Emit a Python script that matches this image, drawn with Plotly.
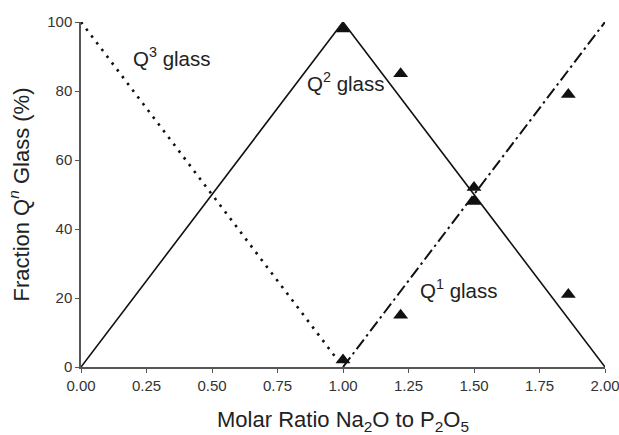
import plotly.graph_objects as go

# Ideal Q^n speciation lines vs. molar ratio
q2_x = [0.0, 1.0, 2.0]
q2_y = [0, 100, 0]
q3_x = [0.0, 1.0]
q3_y = [100, 0]
q1_x = [1.0, 2.0]
q1_y = [0, 100]

# Measured fractions (triangles)
meas_x = [1.0, 1.0, 1.22, 1.22, 1.5, 1.5, 1.86, 1.86]
meas_y = [98, 2, 85, 15, 52, 48, 79, 21]

x_ticks = [0.0, 0.25, 0.5, 0.75, 1.0, 1.25, 1.5, 1.75, 2.0]
y_ticks = [0, 20, 40, 60, 80, 100]

FONT = "Liberation Sans, Arial, sans-serif"

fig = go.Figure()
fig.add_trace(go.Scatter(x=q2_x, y=q2_y, mode="lines",
                         line=dict(color="#111111", width=1.6)))
fig.add_trace(go.Scatter(x=q3_x, y=q3_y, mode="lines",
                         line=dict(color="#111111", width=2.6, dash="2.5px,6px")))
fig.add_trace(go.Scatter(x=q1_x, y=q1_y, mode="lines",
                         line=dict(color="#111111", width=2, dash="12px,4px,2.5px,4px")))
fig.add_trace(go.Scatter(x=meas_x, y=meas_y, mode="markers",
                         marker=dict(symbol="triangle-up", size=13, color="#111111")))

font_lbl = dict(family=FONT, size=20.5, color="#222222")
labels = [
    (0.19, 90, "Q<sup>3</sup> glass"),
    (0.855, 82.5, "Q<sup>2</sup> glass"),
    (1.287, 22.5, "Q<sup>1</sup> glass"),
]
for lx, ly, txt in labels:
    fig.add_annotation(x=lx, y=ly, text=txt, showarrow=False,
                       xanchor="left", yanchor="middle", font=font_lbl)

axis_common = dict(
    showgrid=False, zeroline=False, showline=True, linecolor="#555555", linewidth=1.5,
    ticks="outside", ticklen=4, tickwidth=1.2, tickcolor="#555555",
    tickfont=dict(family=FONT, size=15, color="#333333"),
    ticklabeloverflow="allow", automargin=False,
)

fig.update_layout(
    width=619, height=435,
    margin=dict(l=81, r=14, t=22, b=68),
    plot_bgcolor="white", paper_bgcolor="white",
    showlegend=False,
    xaxis=dict(range=[0, 2], tickvals=x_ticks, ticktext=[f"{v:.2f}" for v in x_ticks],
               title=dict(text="Molar Ratio Na<sub>2</sub>O to P<sub>2</sub>O<sub>5</sub>",
                          font=dict(family=FONT, size=22, color="#222222"),
                          standoff=20),
               **axis_common),
    yaxis=dict(range=[0, 100], tickvals=y_ticks,
               title=dict(text="Fraction Q<sup><i>n</i></sup> Glass (%)",
                          font=dict(family=FONT, size=22, color="#222222"),
                          standoff=12),
               **axis_common),
)
for tr in fig.data:
    tr.cliponaxis = False

fig.write_html("out.html")
